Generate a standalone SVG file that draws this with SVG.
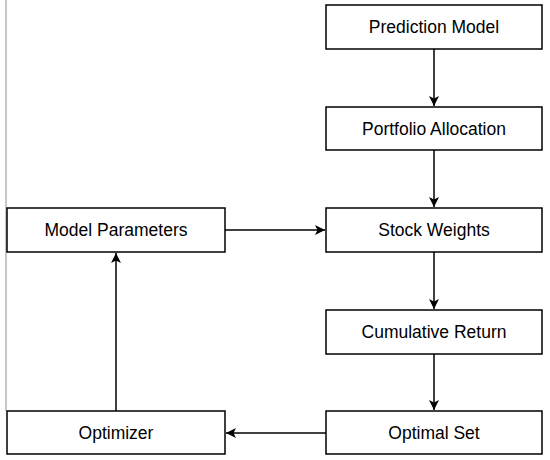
<svg xmlns="http://www.w3.org/2000/svg" width="550" height="460" viewBox="0 0 550 460">
<style>
.box{fill:#fff;stroke:#000;stroke-width:1.5}
.lbl{font-family:"Liberation Sans",Arial,sans-serif;font-size:17.5px;fill:#000;text-anchor:middle}
.con{stroke:#000;stroke-width:1.5;fill:none;marker-end:url(#ah)}
</style>
<defs>
<marker id="ah" markerWidth="10" markerHeight="10" refX="10" refY="5" orient="auto" markerUnits="userSpaceOnUse">
<path d="M0,0 L10,5 L0,10 L2.5,5 Z" fill="#000"/>
</marker>
</defs>
<rect width="550" height="460" fill="#fff"/>
<line x1="6" y1="0" x2="6" y2="411" stroke="#b4b4b4" stroke-width="1.5"/>
<g id="connectors">
<line class="con" x1="434" y1="49" x2="434" y2="106"/>
<line class="con" x1="434" y1="150" x2="434" y2="207"/>
<line class="con" x1="434" y1="252" x2="434" y2="309"/>
<line class="con" x1="434" y1="354" x2="434" y2="410"/>
<line class="con" x1="225" y1="230" x2="325" y2="230"/>
<line class="con" x1="326" y1="433" x2="226" y2="433"/>
<line class="con" x1="116" y1="411" x2="116" y2="253"/>
</g>
<g id="prediction-model"><rect class="box" x="326" y="5" width="216" height="44"/><text class="lbl" x="434" y="33">Prediction Model</text></g>
<g id="portfolio-allocation"><rect class="box" x="326" y="107" width="216" height="43"/><text class="lbl" x="434" y="135">Portfolio Allocation</text></g>
<g id="stock-weights"><rect class="box" x="326" y="208" width="216" height="44"/><text class="lbl" x="434" y="236">Stock Weights</text></g>
<g id="cumulative-return"><rect class="box" x="326" y="310" width="216" height="44"/><text class="lbl" x="434" y="338">Cumulative Return</text></g>
<g id="optimal-set"><rect class="box" x="326" y="411" width="216" height="43"/><text class="lbl" x="434" y="439">Optimal Set</text></g>
<g id="model-parameters"><rect class="box" x="7" y="208" width="218" height="44"/><text class="lbl" x="116" y="236">Model Parameters</text></g>
<g id="optimizer"><rect class="box" x="7" y="411" width="218" height="43"/><text class="lbl" x="116" y="439">Optimizer</text></g>
</svg>
